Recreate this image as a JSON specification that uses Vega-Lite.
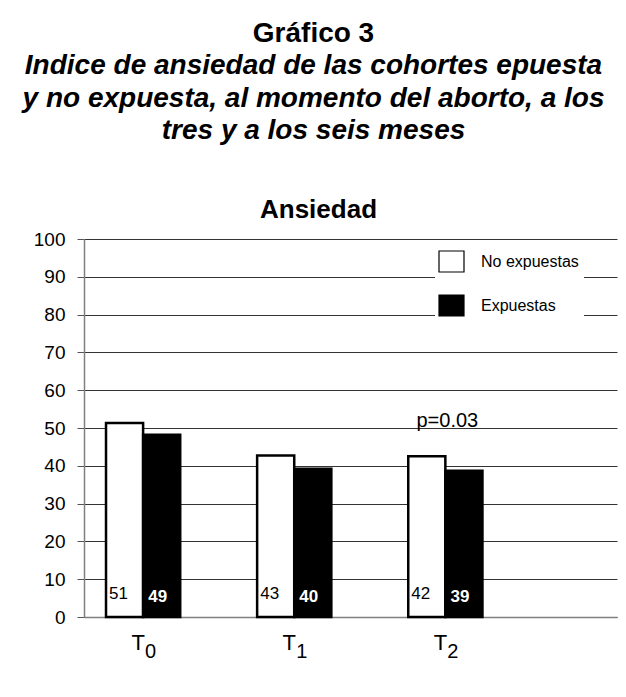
{
  "$schema": "https://vega.github.io/schema/vega-lite/v6.json",
  "autosize": {"type": "none"},
  "width": 533,
  "height": 378,
  "padding": {"left": 84, "top": 239, "right": 9, "bottom": 80},
  "background": "white",
  "config": {
    "font": "Liberation Sans",
    "view": {"stroke": null},
    "axisY": {
      "titleAngle": 0,
      "titleAlign": "center",
      "titleBaseline": "alphabetic",
      "titleX": 234,
      "titleY": -22,
      "titleFontSize": 26,
      "titleFontWeight": "bold",
      "titleColor": "black",
      "labelOverlap": false,
      "grid": true, "gridColor": "#333333", "gridWidth": 1,
      "domainColor": "#808080", "domainWidth": 1.5,
      "tickColor": "#555555", "tickSize": 7,
      "labelFontSize": 19, "labelColor": "black", "labelPadding": 12
    }
  },
  "datasets": {
    "bars": [
      {"t": "T0", "g": "No expuestas", "v": 51.3, "label": "51"},
      {"t": "T0", "g": "Expuestas", "v": 48.2, "label": "49"},
      {"t": "T1", "g": "No expuestas", "v": 42.7, "label": "43"},
      {"t": "T1", "g": "Expuestas", "v": 39.2, "label": "40"},
      {"t": "T2", "g": "No expuestas", "v": 42.5, "label": "42"},
      {"t": "T2", "g": "Expuestas", "v": 38.7, "label": "39"}
    ],
    "cats": [
      {"t": "T0", "main": "T", "sub": "0"},
      {"t": "T1", "main": "T", "sub": "1"},
      {"t": "T2", "main": "T", "sub": "2"}
    ],
    "notes": [
      {"t": "T2", "note": "p=0.03"}
    ]
  },
  "title": {
    "text": "Gráfico 3",
    "subtitle": ["Indice de ansiedad de las cohortes epuesta", "y no expuesta, al momento del aborto, a los", "tres y a los seis meses"],
    "anchor": "middle",
    "frame": "group",
    "dx": -37,
    "fontSize": 28,
    "fontWeight": "bold",
    "color": "black",
    "subtitleFont": "Liberation Sans",
    "subtitleFontSize": 28,
    "subtitleFontWeight": "bold",
    "subtitleFontStyle": "italic",
    "subtitleColor": "black",
    "subtitleLineHeight": 32.5,
    "subtitlePadding": 4,
    "offset": 51
  },
  "layer": [
    {
      "data": {"name": "bars"},
      "mark": {"type": "bar", "stroke": "black", "strokeWidth": 2.5},
      "encoding": {
        "x": {
          "field": "t", "type": "nominal",
          "scale": {"type": "band", "domain": ["T0", "T1", "T2"], "paddingInner": 0.509, "paddingOuter": 0.518, "align": 0.1406},
          "axis": {"labels": false, "ticks": false, "title": null, "domain": true, "domainColor": "#808080", "domainWidth": 1.5}
        },
        "xOffset": {
          "field": "g", "type": "nominal",
          "scale": {"domain": ["No expuestas", "Expuestas"], "paddingInner": 0, "paddingOuter": 0}
        },
        "y": {
          "field": "v", "type": "quantitative",
          "scale": {"domain": [0, 100], "nice": false},
          "axis": {"title": "Ansiedad", "values": [0, 10, 20, 30, 40, 50, 60, 70, 80, 90, 100]}
        },
        "fill": {
          "field": "g", "type": "nominal",
          "scale": {"domain": ["No expuestas", "Expuestas"], "range": ["white", "black"]},
          "legend": {
            "title": null,
            "orient": "none",
            "legendX": 351,
            "legendY": 6,
            "padding": 5,
            "fillColor": "white",
            "symbolType": "M-1.19,-1H1.19V1H-1.19Z",
            "symbolSize": 441,
            "symbolStrokeColor": "black",
            "symbolStrokeWidth": 1.2,
            "labelFontSize": 16,
            "labelColor": "black",
            "labelOffset": 18,
            "labelLimit": 300,
            "rowPadding": 17
          }
        }
      }
    },
    {
      "data": {"name": "bars"},
      "transform": [{"filter": "datum.g === 'No expuestas'"}],
      "mark": {"type": "text", "baseline": "alphabetic", "align": "center", "dx": -6, "dy": -18, "fontSize": 17, "color": "black"},
      "encoding": {
        "x": {"field": "t", "type": "nominal"},
        "xOffset": {"field": "g", "type": "nominal"},
        "y": {"datum": 0, "type": "quantitative", "axis": {"title": "Ansiedad", "values": [0, 10, 20, 30, 40, 50, 60, 70, 80, 90, 100]}},
        "text": {"field": "label"}
      }
    },
    {
      "data": {"name": "bars"},
      "transform": [{"filter": "datum.g === 'Expuestas'"}],
      "mark": {"type": "text", "baseline": "alphabetic", "align": "center", "dx": -4, "dy": -15, "fontSize": 17, "fontWeight": "bold", "color": "white"},
      "encoding": {
        "x": {"field": "t", "type": "nominal"},
        "xOffset": {"field": "g", "type": "nominal"},
        "y": {"datum": 0, "type": "quantitative", "axis": {"title": "Ansiedad", "values": [0, 10, 20, 30, 40, 50, 60, 70, 80, 90, 100]}},
        "text": {"field": "label"}
      }
    },
    {
      "data": {"name": "cats"},
      "mark": {"type": "text", "baseline": "alphabetic", "align": "center", "dx": -5, "dy": 33, "fontSize": 22, "color": "black"},
      "encoding": {
        "x": {"field": "t", "type": "nominal"},
        "y": {"datum": 0, "type": "quantitative", "axis": {"title": "Ansiedad", "values": [0, 10, 20, 30, 40, 50, 60, 70, 80, 90, 100]}},
        "text": {"field": "main"}
      }
    },
    {
      "data": {"name": "cats"},
      "mark": {"type": "text", "baseline": "alphabetic", "align": "left", "dx": 2, "dy": 41, "fontSize": 20, "color": "black"},
      "encoding": {
        "x": {"field": "t", "type": "nominal"},
        "y": {"datum": 0, "type": "quantitative", "axis": {"title": "Ansiedad", "values": [0, 10, 20, 30, 40, 50, 60, 70, 80, 90, 100]}},
        "text": {"field": "sub"}
      }
    },
    {
      "data": {"name": "notes"},
      "mark": {"type": "text", "baseline": "alphabetic", "align": "center", "dx": 2, "dy": -1.5, "fontSize": 20, "color": "black"},
      "encoding": {
        "x": {"field": "t", "type": "nominal"},
        "y": {"datum": 50, "type": "quantitative", "axis": {"title": "Ansiedad", "values": [0, 10, 20, 30, 40, 50, 60, 70, 80, 90, 100]}},
        "text": {"field": "note"}
      }
    }
  ]
}
